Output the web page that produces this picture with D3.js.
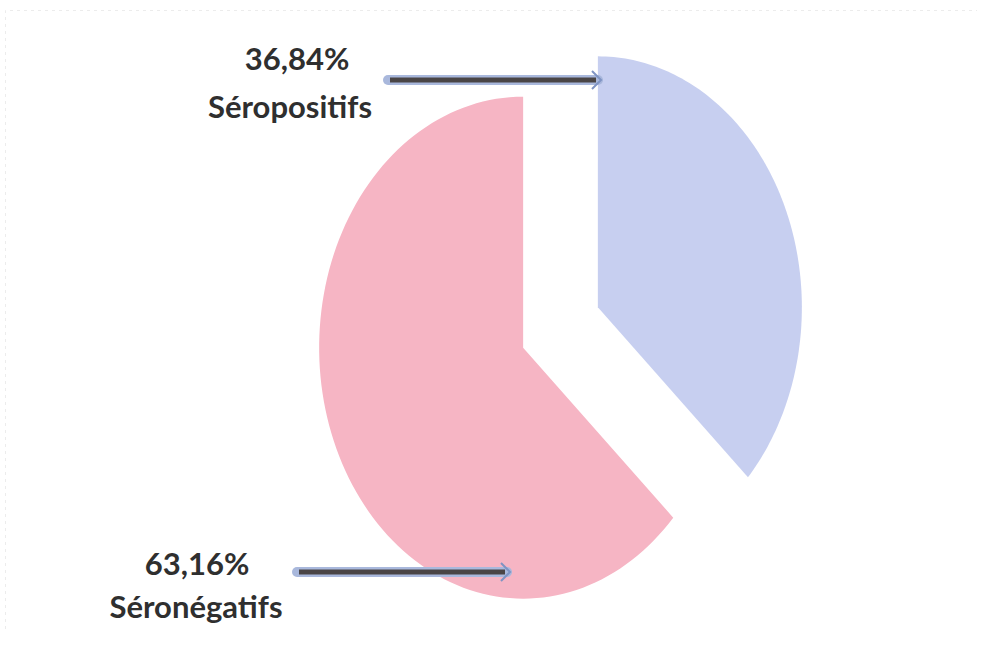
<!DOCTYPE html>
<html>
<head>
<meta charset="utf-8">
<script src="https://cdn.jsdelivr.net/npm/d3@7"></script>
<style>
  html, body { margin: 0; padding: 0; background: #fff; }
  svg { display: block; }
</style>
</head>
<body>
<svg id="chart" width="987" height="649"></svg>
<script>
// Serology results
const categories = ["Séropositifs", "Séronégatifs"];
const values = [36.84, 63.16];
const valueLabels = ["36,84%", "63,16%"];
const colors = ["#c7cff0", "#f6b5c4"];

const W = 987, H = 649;
const svg = d3.select("#chart");

// Faint frame edges (top and left)
svg.append("path")
  .attr("d", `M5.5,${H - 20} L5.5,10.5 L${W - 10},10.5`)
  .attr("fill", "none")
  .attr("stroke", "#ececec")
  .attr("stroke-width", 1)
  .attr("stroke-dasharray", "3,4");

// Elliptical pie: unit-circle geometry mapped through x/y scales
const cx = 560.5, cy = 327.5, rx = 204, ry = 251;
const sx = d3.scaleLinear().domain([-1, 1]).range([cx - rx, cx + rx]);
const sy = d3.scaleLinear().domain([-1, 1]).range([cy - ry, cy + ry]);
const explode = 0.2;

const pie = d3.pie().sort(null).value(d => d)(values);

const slices = svg.append("g");
pie.forEach((p, i) => {
  const mid = (p.startAngle + p.endAngle) / 2;
  const ox = Math.sin(mid) * explode, oy = -Math.cos(mid) * explode;
  // sample the unit arc outline and project it through the scales
  const pts = [[0, 0]];
  const n = 120;
  for (let k = 0; k <= n; k++) {
    const a = p.startAngle + (p.endAngle - p.startAngle) * k / n;
    pts.push([Math.sin(a), -Math.cos(a)]);
  }
  const path = d3.line()
    .x(d => sx(d[0] + ox))
    .y(d => sy(d[1] + oy));
  slices.append("path")
    .attr("d", path(pts) + "Z")
    .attr("fill", colors[i]);
});

// Callout arrows
function arrow(x1, x2, y) {
  const g = svg.append("g");
  g.append("line").attr("x1", x1).attr("x2", x2).attr("y1", y).attr("y2", y)
    .attr("stroke", "#a9b8dc").attr("stroke-width", 10).attr("stroke-linecap", "round");
  g.append("line").attr("x1", x1 + 2).attr("x2", x2 - 2).attr("y1", y).attr("y2", y)
    .attr("stroke", "#4a4546").attr("stroke-width", 5);
  g.append("path")
    .attr("d", `M${x2 - 6},${y - 9} L${x2 + 3},${y} L${x2 - 6},${y + 9}`)
    .attr("fill", "none").attr("stroke", "#7f94c4").attr("stroke-width", 2);
}
arrow(388, 598, 80);
arrow(297, 507, 572);

// Labels
const labelPos = [
  { x: 297, y1: 70, y2: 118 },
  { x: 197, y1: 575, y2: 618 }
];
labelPos.forEach((lp, i) => {
  svg.append("text")
    .attr("x", lp.x).attr("y", lp.y1)
    .attr("text-anchor", "middle")
    .attr("font-family", "Lato, 'Open Sans', sans-serif")
    .attr("font-weight", "bold")
    .attr("font-size", 31)
    .attr("fill", "#2f2f2f")
    .text(valueLabels[i]);
  svg.append("text")
    .attr("x", lp.x - (i === 0 ? 7 : 1)).attr("y", lp.y2)
    .attr("text-anchor", "middle")
    .attr("font-family", "Lato, 'Open Sans', sans-serif")
    .attr("font-weight", "bold")
    .attr("font-size", 31)
    .attr("fill", "#2f2f2f")
    .text(categories[i]);
});
</script>
</body>
</html>
